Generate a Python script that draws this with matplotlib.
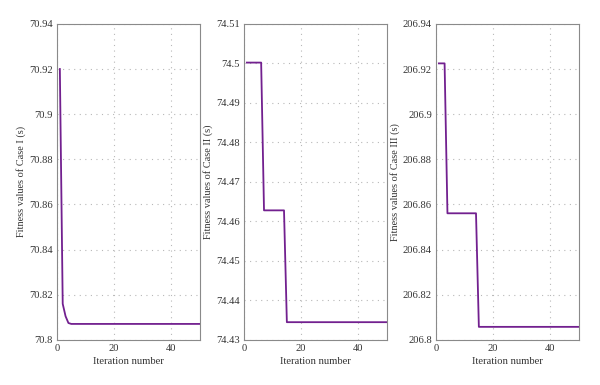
import matplotlib
matplotlib.use("Agg")
import matplotlib.pyplot as plt
from matplotlib.ticker import FuncFormatter, FixedLocator

plt.rcParams['font.family'] = ['Liberation Serif', 'DejaVu Serif']

# Case I
iter1 = [1, 2, 3, 4, 5, 50]
fit1 = [70.92, 70.816, 70.8105, 70.8075, 70.8071, 70.8071]
# Case II
iter2 = [1, 6, 7, 14, 15, 50]
fit2 = [74.5002, 74.5002, 74.4628, 74.4628, 74.4345, 74.4345]
# Case III
iter3 = [1, 3, 4, 14, 15, 50]
fit3 = [206.9225, 206.9225, 206.8561, 206.8561, 206.8058, 206.8058]

ylabels = ["Fitness values of Case I (s)", "Fitness values of Case II (s)",
           "Fitness values of Case III (s)"]
yticks1 = [70.8, 70.82, 70.84, 70.86, 70.88, 70.9, 70.92, 70.94]
yticks2 = [74.43, 74.44, 74.45, 74.46, 74.47, 74.48, 74.49, 74.5, 74.51]
yticks3 = [206.8, 206.82, 206.84, 206.86, 206.88, 206.9, 206.92, 206.94]
xticks = [0, 20, 40]

fig = plt.figure(figsize=(6, 3.85), dpi=100)
lefts = [0.095, 0.4067, 0.7267]
color = '#72208F'
data = [(iter1, fit1, yticks1), (iter2, fit2, yticks2), (iter3, fit3, yticks3)]
for left, (x, y, yt), lab in zip(lefts, data, ylabels):
    ax = fig.add_axes([left, 0.117, 0.238, 0.821])
    ax.plot(x, y, color=color, lw=1.3)
    ax.set_xlim(0, 50)
    ax.set_ylim(yt[0], yt[-1])
    ax.yaxis.set_major_locator(FixedLocator(yt))
    ax.xaxis.set_major_locator(FixedLocator(xticks))
    ax.yaxis.set_major_formatter(FuncFormatter(lambda v, p: f"{v:g}"))
    ax.grid(True, linestyle=(0, (1, 4)), color='#b8b8b8', lw=0.8)
    ax.tick_params(length=0, labelsize=7.6, colors='#333333', pad=3)
    for s in ax.spines.values():
        s.set_color('#8a8a8a')
        s.set_linewidth(0.8)
    ax.set_xlabel("Iteration number", fontsize=7.6, color='#333333', labelpad=3)
    ax.set_ylabel(lab, fontsize=7.4, color='#333333', labelpad=2)

fig.savefig("out.png", dpi=100)
